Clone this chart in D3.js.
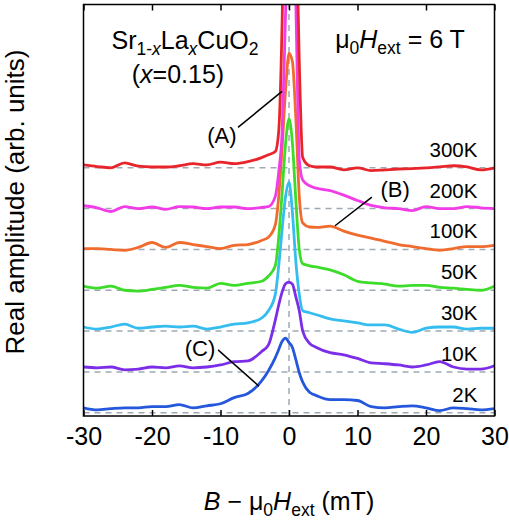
<!DOCTYPE html>
<html>
<head>
<meta charset="utf-8">
<script src="https://cdn.jsdelivr.net/npm/d3@7"></script>
<style>
body { margin: 0; background: #fff; }
svg text { font-family: "Liberation Sans", Arial, sans-serif; fill: #000; }
</style>
</head>
<body>
<div id="chart"></div>
<script>
// field offsets (mT), shared by all traces
var fieldGrid = [-30, -28, -26, -24, -22, -20, -18, -16, -14, -12, -10, -8, -6, -4,
	-3, -2, -1.5, -1, -0.5, 0, 0.5, 1, 1.5, 2, 3,
	4, 6, 8, 10, 12, 14, 16, 18, 20, 22, 24, 26, 28, 30];

var tempLabels = ['300K', '200K', '100K', '50K', '30K', '10K', '2K'];
var baseOffsets = [6, 5, 4, 3, 2, 1, 0];
var xTicks = [-30, -20, -10, 0, 10, 20, 30];

// amplitude above each trace's own baseline (arb. units)
var amp300K = [0.07, 0.03, 0, 0.12, 0.04, 0.02, 0.02, 0.05, 0.1, 0.07, 0.14, 0.1, 0.15, 0.25,
	0.32, 0.4, 0.9, 3.6, 8.6, 13, 12.5, 6.5, 2.6, 0.25, 0.05,
	0.02, 0.02, -0.05, 0, -0.07, -0.05, -0.03, -0.02, 0, 0.02, 0.05, 0.02, -0.05, 0];
var amp200K = [0.07, 0.02, -0.07, 0.05, 0, 0.04, -0.02, 0.05, 0.04, 0, 0.04, 0.04, 0, 0.03,
	0.05, 0.3, 0.9, 1.9, 4.8, 8, 8, 5, 1.2, 0.7, 0.56,
	0.5, 0.44, 0.33, 0.2, 0.08, 0.02, 0, -0.05, 0.05, 0, 0, 0.05, 0.02, 0];
var amp100K = [0.02, 0.02, 0, -0.02, 0.05, 0.17, 0.05, 0.17, 0.12, 0.07, 0.02, 0.1, 0.12, 0.22,
	0.3, 0.6, 1.3, 2.5, 3.9, 4.8, 4.6, 3.2, 1.3, 0.65, 0.55,
	0.54, 0.57, 0.45, 0.35, 0.28, 0.2, 0.12, 0.07, 0.02, -0.02, 0.02, 0.07, 0.07, 0.1];
var amp50K = [0.1, 0.05, 0.1, 0, -0.02, 0.02, 0.07, 0.12, 0.07, 0.05, 0.17, 0.12, 0.17, 0.22,
	0.35, 0.6, 1.3, 2.4, 3.6, 4.2, 3.6, 2.2, 1.0, 0.65, 0.6,
	0.57, 0.5, 0.38, 0.22, 0.18, 0.15, 0.1, 0.12, 0.12, 0.07, 0.05, 0.02, 0, 0.1];
var amp30K = [0.1, 0.05, 0.1, 0.17, 0.07, 0.1, 0.12, 0.1, 0.12, 0.05, 0.1, 0.17, 0.2, 0.32,
	0.5, 0.9, 1.6, 2.5, 3.3, 3.65, 2.9, 1.7, 0.9, 0.5, 0.45,
	0.4, 0.3, 0.25, 0.2, 0.15, 0.15, 0.05, -0.03, 0.07, 0.1, 0.1, 0.05, 0.07, 0.07];
var amp10K = [0.12, 0.1, 0.12, 0.05, 0.07, 0.12, 0.1, 0.15, 0.1, 0.12, 0.17, 0.25, 0.27, 0.5,
	0.66, 1.27, 1.64, 1.96, 2.16, 2.2, 2.15, 1.84, 1.5, 1.0, 0.7,
	0.6, 0.47, 0.42, 0.33, 0.22, 0.2, 0.17, 0.12, 0.17, 0.25, 0.12, 0.07, 0.07, 0.15];
var amp2K = [0.12, 0.07, 0.1, 0.12, 0.12, 0.15, 0.15, 0.2, 0.12, 0.17, 0.22, 0.37, 0.47, 0.78,
	1.03, 1.35, 1.55, 1.75, 1.83, 1.72, 1.6, 1.3, 0.98, 0.75, 0.5,
	0.42, 0.32, 0.32, 0.3, 0.15, 0.12, 0.15, 0.17, 0.12, 0.05, 0.12, 0.1, 0.07, 0.1];

var traces = [amp300K, amp200K, amp100K, amp50K, amp30K, amp10K, amp2K];
var lineColors = ['#e8252b', '#f23ce8', '#ef6b2e', '#3edc2a', '#36bdf0', '#7b2de8', '#2457dc'];

// callouts: label, label anchor, leader start, leader end (data coords)
var callouts = [
	{label: '(A)', at: [-9.8, 6.6], from: [-7.45, 6.99], to: [-1.02, 7.87]},
	{label: '(B)', at: [15.5, 5.28], from: [12.1, 5.28], to: [6.72, 4.58]},
	{label: '(C)', at: [-13.0, 1.39], from: [-10.36, 1.54], to: [-4.38, 0.65]}
];

var width = 509, height = 530;

var svg = d3.select('#chart')
	.append('svg')
	.attr('width', width)
	.attr('height', height);

var x = d3.scaleLinear().domain([-30, 30]).range([83.5, 494.5]);
var y = d3.scaleLinear().domain([-0.08, 10]).range([416, 4.5]);

svg.append('clipPath')
	.attr('id', 'plot-clip')
	.append('rect')
	.attr('x', x(-30))
	.attr('y', y(10))
	.attr('width', x(30) - x(-30))
	.attr('height', y(-0.08) - y(10));

var dashColor = '#9fa9b4';

// baselines
svg.selectAll('.baseline')
	.data(baseOffsets)
	.enter()
	.append('line')
	.attr('class', 'baseline')
	.attr('x1', x(-30))
	.attr('x2', x(30))
	.attr('y1', function(d) { return y(d); })
	.attr('y2', function(d) { return y(d); })
	.attr('stroke', dashColor)
	.attr('stroke-width', 1.5)
	.attr('stroke-dasharray', '6,5');

svg.append('line')
	.attr('x1', x(0))
	.attr('x2', x(0))
	.attr('y1', y(-0.08))
	.attr('y2', y(10))
	.attr('stroke', dashColor)
	.attr('stroke-width', 1.5)
	.attr('stroke-dasharray', '6,5');

var line = d3.line()
	.x(function(d) { return x(d[0]); })
	.y(function(d) { return y(d[1]); })
	.curve(d3.curveMonotoneX);

var plot = svg.append('g').attr('clip-path', 'url(#plot-clip)');

// draw from the bottom trace upwards
for (var i = traces.length - 1; i >= 0; i--) {
	var pts = fieldGrid.map(function(f, j) {
		return [f, traces[i][j] + baseOffsets[i]];
	});
	plot.append('path')
		.datum(pts)
		.attr('d', line)
		.attr('fill', 'none')
		.attr('stroke', lineColors[i])
		.attr('stroke-width', 2.8)
		.attr('stroke-linejoin', 'round');
}

// temperature labels
svg.selectAll('.temp-label')
	.data(tempLabels)
	.enter()
	.append('text')
	.attr('class', 'temp-label')
	.attr('text-anchor', 'end')
	.attr('x', x(27.5))
	.attr('y', function(d, i) { return y(baseOffsets[i]) - 11; })
	.style('font-size', '20.5px')
	.text(function(d) { return d; });

// axes
var bottomAxis = d3.axisBottom(x)
	.tickValues(xTicks)
	.tickSizeInner(-6)
	.tickSizeOuter(0)
	.tickPadding(11)
	.tickFormat(function(d) { return String(d); });

var topAxis = d3.axisTop(x)
	.tickValues(xTicks)
	.tickSizeInner(-6)
	.tickSizeOuter(0)
	.tickFormat('');

var gb = svg.append('g')
	.attr('transform', 'translate(0,' + y(-0.08) + ')')
	.call(bottomAxis);
var gt = svg.append('g')
	.attr('transform', 'translate(0,' + y(10) + ')')
	.call(topAxis);

[gb, gt].forEach(function(g) {
	g.select('.domain').remove();
	g.selectAll('.tick line').attr('stroke', '#000').attr('stroke-width', 1.5);
	g.selectAll('.tick text')
		.style('font-size', '25px')
		.style('font-family', '"Liberation Sans", Arial, sans-serif');
});

svg.append('rect')
	.attr('x', x(-30))
	.attr('y', y(10))
	.attr('width', x(30) - x(-30))
	.attr('height', y(-0.08) - y(10))
	.attr('fill', 'none')
	.attr('stroke', '#000')
	.attr('stroke-width', 1.5);

// text with sub/italic parts
function richText(px, py, parts, size) {
	var t = svg.append('text')
		.attr('x', px)
		.attr('y', py)
		.attr('text-anchor', 'middle')
		.style('font-size', size + 'px');
	var shift = 0;
	parts.forEach(function(p) {
		var s = t.append('tspan').text(p.t);
		var target = p.sub ? Math.round(size * 0.24) : 0;
		if (target !== shift) {
			s.attr('dy', target - shift);
			shift = target;
		}
		if (p.sub) s.style('font-size', (size * 0.7) + 'px');
		if (p.it) s.style('font-style', 'italic');
	});
	return t;
}

richText(185, 49, [
	{t: 'Sr'}, {t: '1-', sub: true}, {t: 'x', sub: true, it: true},
	{t: 'La'}, {t: 'x', sub: true, it: true},
	{t: 'CuO'}, {t: '2', sub: true}
], 25);

richText(178, 83, [{t: '('}, {t: 'x', it: true}, {t: '=0.15)'}], 25);

richText(400, 48, [
	{t: '\u03bc'}, {t: '0', sub: true}, {t: 'H', it: true}, {t: 'ext', sub: true}, {t: ' = 6 T'}
], 25);

richText(289, 510, [
	{t: 'B', it: true}, {t: '  \u2212 \u03bc'}, {t: '0', sub: true},
	{t: 'H', it: true}, {t: 'ext', sub: true}, {t: ' (mT)'}
], 25);

svg.append('text')
	.attr('transform', 'translate(24,202) rotate(-90)')
	.attr('text-anchor', 'middle')
	.style('font-size', '26px')
	.text('Real amplitude (arb. units)');

// callouts
callouts.forEach(function(c) {
	svg.append('line')
		.attr('x1', x(c.from[0]))
		.attr('y1', y(c.from[1]))
		.attr('x2', x(c.to[0]))
		.attr('y2', y(c.to[1]))
		.attr('stroke', '#000')
		.attr('stroke-width', 1.5);
	svg.append('text')
		.attr('x', x(c.at[0]))
		.attr('y', y(c.at[1]))
		.attr('text-anchor', 'middle')
		.style('font-size', '22px')
		.text(c.label);
});
</script>
</body>
</html>
